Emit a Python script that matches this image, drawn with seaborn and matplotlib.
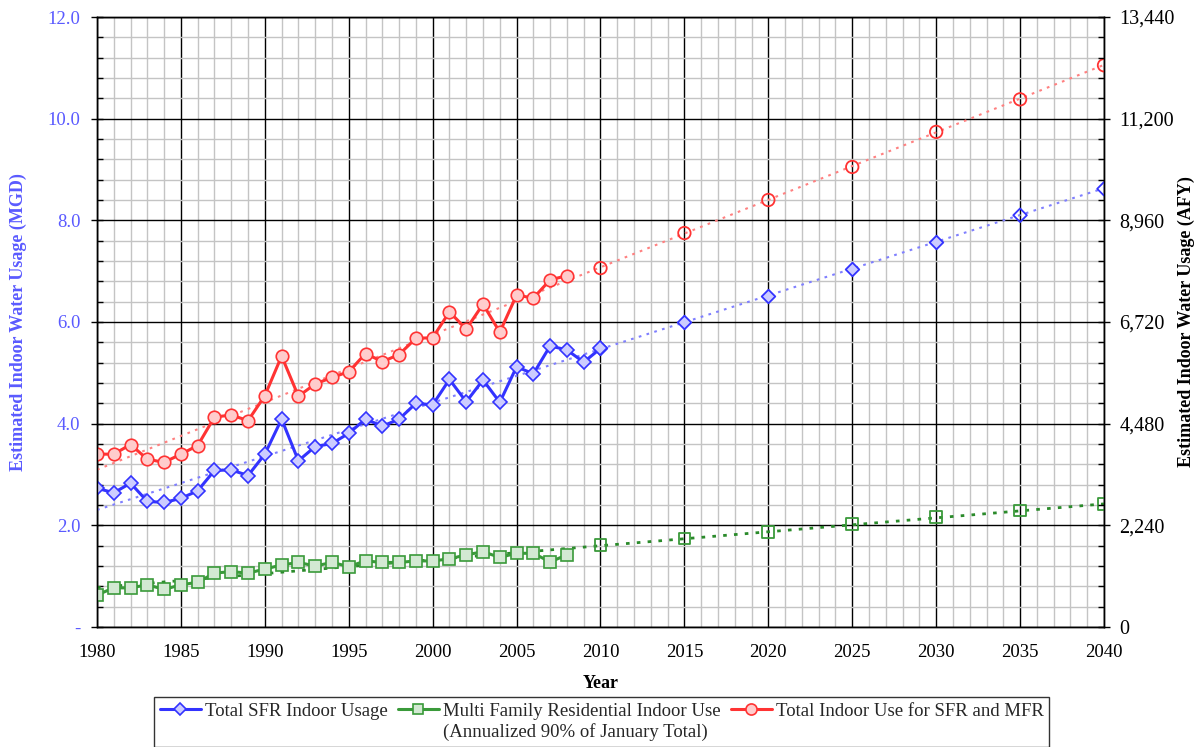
import numpy as np
import matplotlib
matplotlib.use("Agg")
import matplotlib.pyplot as plt
from matplotlib.lines import Line2D
from matplotlib.ticker import MultipleLocator, FixedLocator, FixedFormatter
import seaborn as sns

# ---- historical series (MGD) ----
hist_years = list(range(1980, 2011))
sfr_hist = [2.73, 2.64, 2.83, 2.47, 2.45, 2.53, 2.68, 3.08, 3.09, 2.98,
            3.40, 4.09, 3.27, 3.55, 3.61, 3.81, 4.09, 3.95, 4.09, 4.40,
            4.37, 4.87, 4.43, 4.86, 4.42, 5.12, 4.98, 5.53, 5.45, 5.21,
            5.48]
mfr_years = list(range(1980, 2009))
mfr_hist = [0.63, 0.77, 0.77, 0.83, 0.74, 0.83, 0.88, 1.06, 1.09, 1.06,
            1.14, 1.22, 1.27, 1.20, 1.27, 1.19, 1.30, 1.27, 1.27, 1.30,
            1.30, 1.34, 1.42, 1.48, 1.37, 1.45, 1.45, 1.28, 1.42]
total_hist = [3.40, 3.40, 3.59, 3.30, 3.24, 3.40, 3.57, 4.13, 4.17, 4.06,
              4.55, 5.33, 4.54, 4.78, 4.91, 5.02, 5.38, 5.22, 5.36, 5.68,
              5.69, 6.20, 5.86, 6.35, 5.80, 6.53, 6.47, 6.83, 6.91]

# ---- projected series (MGD) ----
proj_years = [2010, 2015, 2020, 2025, 2030, 2035, 2040]
sfr_proj = [5.48, 6.00, 6.52, 7.05, 7.57, 8.10, 8.62]
mfr_proj = [1.61, 1.74, 1.87, 2.03, 2.16, 2.29, 2.42]
total_proj = [7.06, 7.75, 8.40, 9.05, 9.74, 10.38, 11.05]

# ---- axes text ----
x_ticks = [1980, 1985, 1990, 1995, 2000, 2005, 2010, 2015, 2020, 2025, 2030, 2035, 2040]
mgd_ticks = [0, 2, 4, 6, 8, 10, 12]
mgd_labels = ["-", "2.0", "4.0", "6.0", "8.0", "10.0", "12.0"]
afy_ticks = [0, 2240, 4480, 6720, 8960, 11200, 13440]
afy_labels = ["0", "2,240", "4,480", "6,720", "8,960", "11,200", "13,440"]
AFY_PER_MGD = 1120

series_names = ["Total SFR Indoor Usage",
                "Multi Family Residential Indoor Use",
                "Total Indoor Use for SFR and MFR"]
mfr_note = "(Annualized 90% of January Total)"

sns.set_theme(style="white")
plt.rcParams["font.family"] = ["Liberation Serif", "DejaVu Serif"]
plt.rcParams["font.size"] = 13

TICK_FS = 13.5
LABEL_FS = 13
LEGEND_FS = 13.5

BLUE, BLUE_FILL, BLUE_TREND = "#3333ff", "#ccccff", "#7f7fff"
GREEN, GREEN_FILL, GREEN_TREND = "#3a9a3a", "#d3e9d3", "#2a8a2a"
RED, RED_FILL, RED_TREND = "#ff3333", "#ffcccc", "#ff8080"
LABEL_BLUE = "#5a5aff"

fig = plt.figure(figsize=(12.02, 7.47), dpi=100)
fig.patch.set_facecolor("white")
ax = fig.add_axes([97 / 1202, 1 - 627 / 747, (1104 - 97) / 1202, (627 - 17) / 747])
ax.set_facecolor("white")

ax.set_xlim(1980, 2040)
ax.set_ylim(0, 12)
ax.xaxis.set_major_locator(FixedLocator(x_ticks))
ax.xaxis.set_minor_locator(MultipleLocator(1))
ax.yaxis.set_major_locator(FixedLocator(mgd_ticks))
ax.yaxis.set_major_formatter(FixedFormatter(mgd_labels))
ax.yaxis.set_minor_locator(MultipleLocator(0.4))
ax.grid(which="minor", color="#c4c4c4", lw=1.0)
ax.grid(which="major", color="black", lw=1.0)
ax.set_axisbelow(True)

# dotted trend lines across history and projection
trend_sets = [
    (hist_years + proj_years, sfr_hist + sfr_proj, BLUE_TREND, 1.5),
    (mfr_years + proj_years, mfr_hist + mfr_proj, GREEN_TREND, 2.0),
    (mfr_years + proj_years, total_hist + total_proj, RED_TREND, 1.5),
]
for xs, ys, col, lw in trend_sets:
    sns.regplot(x=np.array(xs, float), y=np.array(ys, float), ax=ax,
                scatter=False, ci=None, truncate=True, color=col,
                line_kws=dict(lw=lw, ls=(0, (1.3, 2.6)), zorder=3))

# historical lines with markers
sns.lineplot(x=hist_years, y=sfr_hist, ax=ax, color=BLUE, lw=2.2,
             marker="D", markersize=7, markerfacecolor=BLUE_FILL,
             markeredgecolor=BLUE, markeredgewidth=1.2, legend=False, zorder=5)
sns.lineplot(x=mfr_years, y=mfr_hist, ax=ax, color=GREEN, lw=2.2,
             marker="s", markersize=8.5, markerfacecolor=GREEN_FILL,
             markeredgecolor=GREEN, markeredgewidth=1.2, legend=False, zorder=5)
sns.lineplot(x=mfr_years, y=total_hist, ax=ax, color=RED, lw=2.2,
             marker="o", markersize=9, markerfacecolor=RED_FILL,
             markeredgecolor=RED, markeredgewidth=1.2, legend=False, zorder=5)

# projected points
sfr_px = np.array(proj_years)
sfr_py = np.array(sfr_proj)
filled = sfr_px <= 2030
sns.scatterplot(x=sfr_px[filled], y=sfr_py[filled], ax=ax, marker="D", s=48,
                facecolor=BLUE_FILL, edgecolor=BLUE, linewidth=1.3, zorder=4)
sns.scatterplot(x=sfr_px[~filled], y=sfr_py[~filled], ax=ax, marker="D", s=48,
                facecolor="none", edgecolor=BLUE, linewidth=1.3, zorder=4)
sns.scatterplot(x=proj_years, y=mfr_proj, ax=ax, marker="s", s=72,
                facecolor="none", edgecolor=GREEN, linewidth=1.3, zorder=4)
sns.scatterplot(x=proj_years, y=total_proj, ax=ax, marker="o", s=80,
                facecolor="none", edgecolor=RED, linewidth=1.3, zorder=4)

for sp in ax.spines.values():
    sp.set_color("black")
    sp.set_linewidth(1.0)

ax.tick_params(axis="x", which="major", direction="out", length=5, width=1,
               color="black", labelsize=TICK_FS, labelcolor="black", pad=7)
ax.tick_params(axis="x", which="minor", length=0)
ax.tick_params(axis="y", which="major", direction="inout", length=8, width=1,
               color="black", labelsize=TICK_FS, labelcolor=LABEL_BLUE, pad=8)
ax.tick_params(axis="y", which="minor", direction="in", length=4, width=1,
               color="black")
ax.set_xlabel("Year", fontsize=LABEL_FS, fontweight="bold", color="black", labelpad=10)
ax.set_ylabel("Estimated Indoor Water Usage (MGD)", fontsize=LABEL_FS,
              fontweight="bold", color=LABEL_BLUE)
ax.yaxis.set_label_coords(-0.0785, 0.5)
ax.yaxis.label.set_va("center")

# secondary axis in acre-feet per year
ax2 = ax.twinx()
ax2.set_ylim(0, 12 * AFY_PER_MGD)
ax2.yaxis.set_major_locator(FixedLocator(afy_ticks))
ax2.yaxis.set_major_formatter(FixedFormatter(afy_labels))
ax2.yaxis.set_minor_locator(MultipleLocator(448))
ax2.grid(False)
for sp in ax2.spines.values():
    sp.set_color("black")
    sp.set_linewidth(1.0)
ax2.tick_params(axis="y", which="major", direction="inout", length=8, width=1,
                color="black", labelsize=TICK_FS + 1, labelcolor="black", pad=7)
ax2.tick_params(axis="y", which="minor", direction="in", length=4, width=1,
                color="black")
ax2.set_ylabel("Estimated Indoor Water Usage (AFY)", fontsize=LABEL_FS,
               fontweight="bold", color="black")
ax2.yaxis.set_label_coords(1.0815, 0.5)
ax2.yaxis.label.set_va("center")

# legend: second row carries the note under the multi-family entry
def handle(color, fill, marker, ms):
    return Line2D([], [], color=color, lw=2.2, marker=marker, markersize=ms,
                  markerfacecolor=fill, markeredgecolor=color, markeredgewidth=1.2)

blank = Line2D([], [], lw=0, marker="")
handles = [handle(BLUE, BLUE_FILL, "D", 6), blank,
           handle(GREEN, GREEN_FILL, "s", 7), blank,
           handle(RED, RED_FILL, "o", 8), blank]
labels = [series_names[0], "", series_names[1], mfr_note, series_names[2], ""]
leg = fig.legend(handles, labels, loc="upper left",
                 bbox_to_anchor=(154 / 1202, 1 - 697 / 747),
                 bbox_transform=fig.transFigure, ncol=3, frameon=True,
                 fancybox=False, shadow=False, edgecolor="black",
                 facecolor="white", borderpad=0.3, handlelength=2.2,
                 handletextpad=0.2, columnspacing=0.55, labelspacing=0.2,
                 borderaxespad=0, fontsize=LEGEND_FS)
leg.get_frame().set_linewidth(1.0)

fig.savefig("out.png", dpi=100, facecolor="white")
